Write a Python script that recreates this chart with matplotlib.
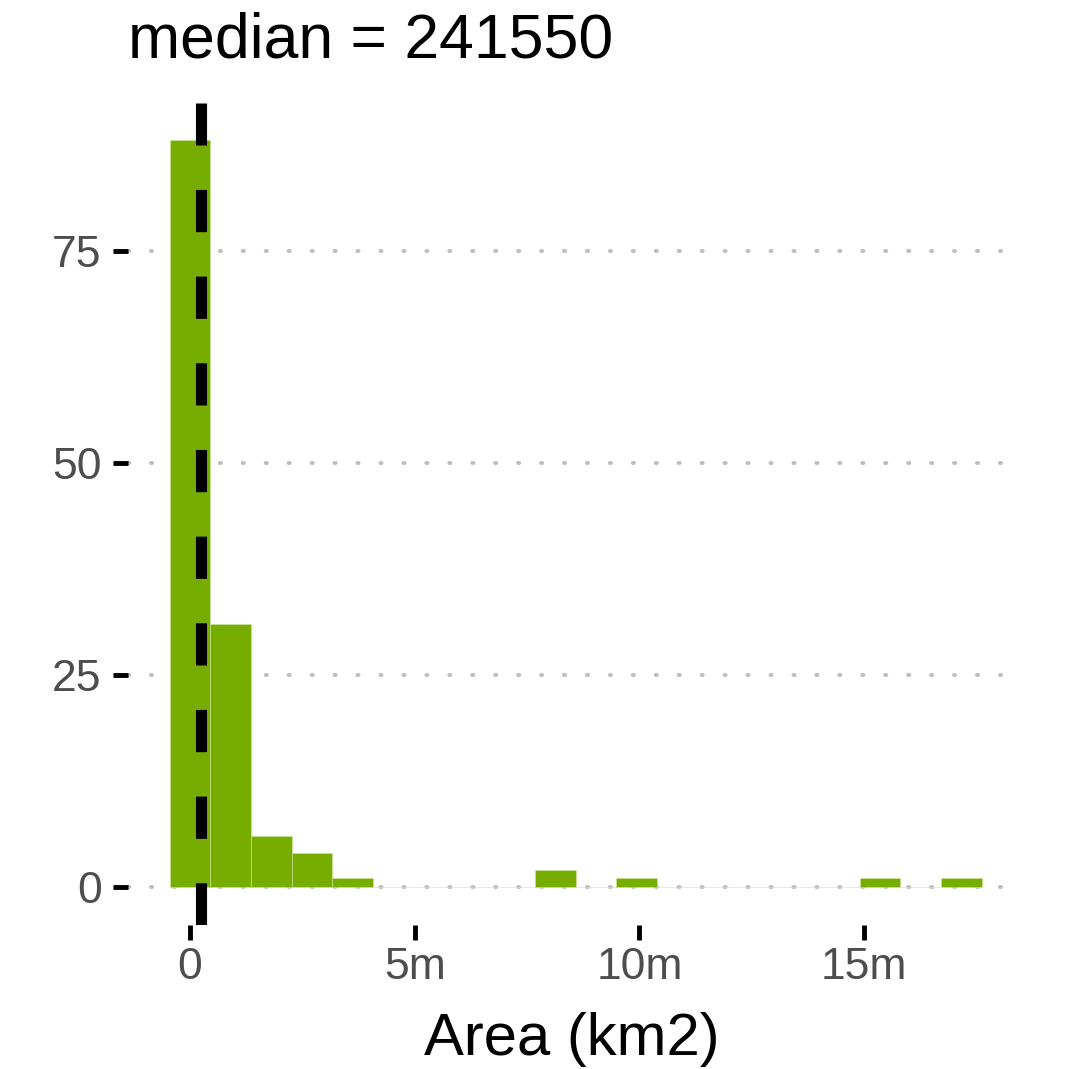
import numpy as np
import matplotlib
matplotlib.use('Agg')
import matplotlib.pyplot as plt

plt.rcParams['font.family'] = ['Liberation Sans', 'DejaVu Sans']

# histogram of areas, bins centred on multiples of the bin width
bin_width = 903500.0
counts = [88, 31, 6, 4, 1, 0, 0, 0, 0, 2, 0, 1, 0, 0, 0, 0, 0, 1, 0, 1]
median_area = 241550
x_ticks = [0, 5e6, 10e6, 15e6]
x_tick_labels = ['0', '5m', '10m', '15m']
y_ticks = [0, 25, 50, 75]

bar_color = '#76AD00'
centers = np.arange(len(counts)) * bin_width

fig = plt.figure(figsize=(10.70, 10.69), dpi=100)
ax = fig.add_axes([128 / 1070, 1 - 925 / 1069, (1015 - 128) / 1070, (925 - 103) / 1069])

ax.bar(centers, counts, width=bin_width, color=bar_color,
       edgecolor='#cfe59a', linewidth=0.4, zorder=2)
ax.axvline(median_area, color='black', linewidth=8, linestyle=(0, (3.8, 4.0)),
           dash_capstyle='butt', zorder=3)

for y in y_ticks:
    ax.axhline(y, color='#BDBDBD', linewidth=2.8, linestyle=(0, (0.3, 5.6)),
               dash_capstyle='round', zorder=1)

ax.set_xlim(-1.38e6, 18.36e6)
ax.set_ylim(-4.5, 92.4)

ax.set_xticks(x_ticks)
ax.set_xticklabels(x_tick_labels)
ax.set_yticks(y_ticks)

for s in ax.spines.values():
    s.set_visible(False)

ax.tick_params(axis='both', colors='black', width=3.5, length=11,
               labelsize=32, labelcolor='#4D4D4D')
ax.tick_params(axis='x', pad=5)
ax.tick_params(axis='y', pad=8)

ax.set_xlabel('Area (km2)', fontsize=43, color='black', labelpad=17)
ax.set_title('median = 241550', fontsize=45, loc='left', x=0.0, pad=33)

fig.savefig('out.png', dpi=100, facecolor='white')
